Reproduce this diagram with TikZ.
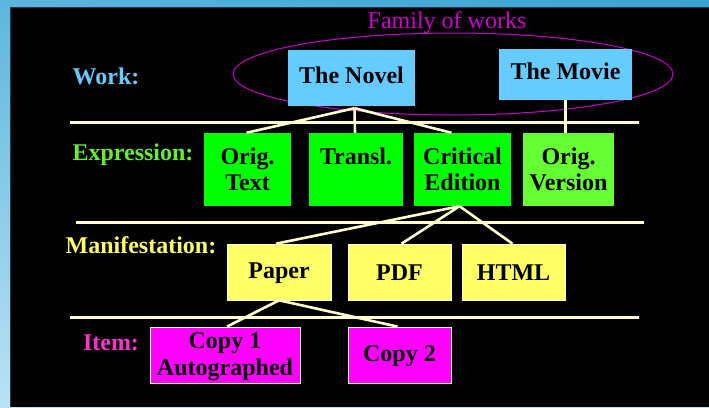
\documentclass[tikz,border=0pt]{standalone}
\usepackage{fontspec}
\setmainfont{Liberation Serif}
\newcommand\bst{\rule[-3pt]{0pt}{22pt}}
\newcommand\wst{\rule[-6pt]{0pt}{22pt}}
\begin{document}
\begin{tikzpicture}[x=1pt,y=-1pt,
  box/.style={rectangle, inner sep=0pt, align=center, text=black,
    font=\fontsize{24}{26.5}\selectfont\bfseries},
  lvl/.style={inner sep=0pt, font=\fontsize{24}{26}\selectfont\bfseries},
  sep/.style={draw=sepcol, line width=3pt},
  conn/.style={draw=sepcol, line width=2.6pt},
]
\definecolor{sepcol}{HTML}{FFFFCC}
\definecolor{workcol}{HTML}{66CCFF}
\definecolor{exprcol}{HTML}{00FF00}
\definecolor{exprcolb}{HTML}{66FF33}
\definecolor{exprlab}{HTML}{66EE33}
\definecolor{maniccol}{HTML}{FFFF66}
\definecolor{itemcol}{HTML}{FF00FF}
\definecolor{itemlab}{HTML}{FF33CC}
\definecolor{famcol}{HTML}{CC00CC}
\definecolor{bgtopl}{HTML}{5CB6DE}
\definecolor{bgtopr}{HTML}{3AA2D4}
\definecolor{bgbot}{HTML}{BAE2F4}
\useasboundingbox (0,0) rectangle (709,407);
% background
\shade[top color=bgtopl, bottom color=bgbot] (0,0) rectangle (709,407);
\shade[left color=bgtopl, right color=bgtopr] (0,0) rectangle (709,7);
\fill[black] (10,7) rectangle (709,407);
\draw[color={rgb,255:red,30;green,60;blue,75}, line width=0.8pt] (10,407) -- (10,7) -- (709,7);

% family ellipse
\draw[famcol, line width=1pt] (453,74) ellipse [x radius=220, y radius=41];
\node[famcol, inner sep=0pt, font=\fontsize{24}{26}\selectfont] (fam) at (447,23) {Family of works};

% separators
\coordinate (s1a) at (70,122); \coordinate (s1b) at (639,122);
\coordinate (s2a) at (76,222); \coordinate (s2b) at (644,222);
\coordinate (s3a) at (70,317); \coordinate (s3b) at (639,317);
\draw[sep] (s1a) -- (s1b);
\draw[sep] (s2a) -- (s2b);
\draw[sep] (s3a) -- (s3b);

% level labels
\node[lvl, text=workcol] (lwork) at (106,76) {Work:};
\node[lvl, text=exprlab] (lexpr) at (133,155) {Expression:};
\node[lvl, text=maniccol] (lman) at (141,245) {Manifestation:};
\node[lvl, text=itemlab] (litem) at (111,343) {Item:};

% work
\node[box, fill=workcol, minimum width=127pt, minimum height=56pt] (novel) at (351.5,78) {The Novel\wst};
\node[box, fill=workcol, minimum width=133pt, minimum height=51pt] (movie) at (565.5,74.5) {The Movie\wst};

% expression
\node[box, fill=exprcol, minimum width=87pt, minimum height=73pt] (origtext) at (247.5,169.5) {Orig.\bst\\Text\bst};
\node[box, fill=exprcol, minimum width=94pt, minimum height=73pt] (transl) at (356,169.5) {Transl.\bst\\\bst};
\node[box, fill=exprcol, minimum width=97pt, minimum height=73pt] (critical) at (462.5,169.5) {Critical\bst\\Edition\bst};
\node[box, fill=exprcolb, minimum width=91pt, minimum height=73pt] (origver) at (568.5,169.5) {Orig.\bst\\Version\bst};

% manifestation
\node[box, fill=maniccol, draw=sepcol, line width=0.6pt, minimum width=104pt, minimum height=56pt] (paper) at (279,272) {Paper\bst};
\node[box, fill=maniccol, draw=sepcol, line width=0.6pt, minimum width=103pt, minimum height=56pt] (pdf) at (399.5,272) {PDF\bst};
\node[box, fill=maniccol, draw=sepcol, line width=0.6pt, minimum width=103pt, minimum height=56pt] (html) at (513.5,272) {HTML\bst};

% item
\node[box, fill=itemcol, draw=sepcol, line width=0.8pt, minimum width=150pt, minimum height=56pt] (copy1) at (225,355) {Copy 1\bst\\Autographed\bst};
\node[box, fill=itemcol, draw=sepcol, line width=0.8pt, minimum width=103pt, minimum height=56pt] (copy2) at (399.5,355) {Copy 2\bst};

% connectors
\draw[conn] ([xshift=3pt,yshift=-2pt]novel.south) -- ([xshift=-1pt]origtext.north);
\draw[conn] ([xshift=3pt,yshift=-2pt]novel.south) -- ([xshift=-1pt]transl.north);
\draw[conn] ([xshift=3pt,yshift=-2pt]novel.south) -- ([xshift=-11pt]critical.north);
\draw[conn] (movie.south) -- ([xshift=-3pt]origver.north);
\draw[conn] ([xshift=-3pt]critical.south) -- ([xshift=-3pt]paper.north);
\draw[conn] ([xshift=-3pt]critical.south) -- ([xshift=2pt]pdf.north);
\draw[conn] ([xshift=-3pt]critical.south) -- ([xshift=-1pt]html.north);
\draw[conn] (paper.south) -- ([xshift=2pt]copy1.north);
\draw[conn] (paper.south) -- ([xshift=-2pt]copy2.north);
\end{tikzpicture}
\end{document}
